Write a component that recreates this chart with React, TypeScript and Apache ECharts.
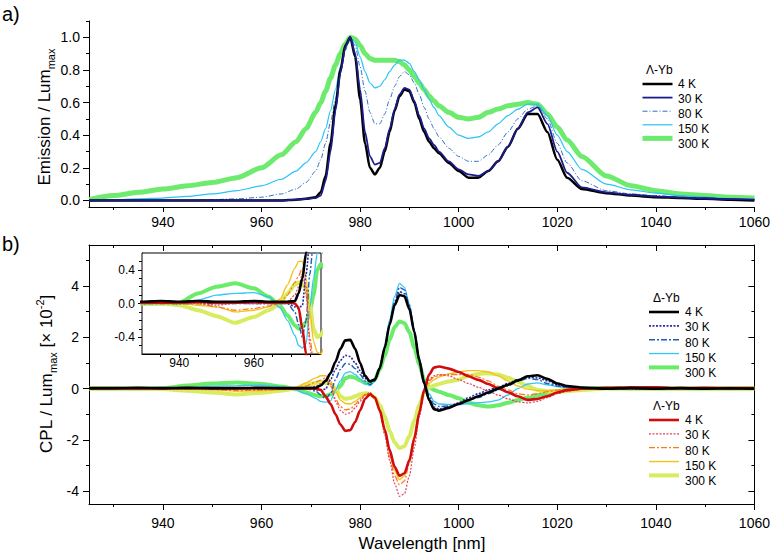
import React, { useEffect, useRef } from 'react';
import * as echarts from 'echarts';

const FONT = '"Liberation Sans", Arial, Helvetica, sans-serif';

// wavelength grid (nm)
const wavelength = [925, 930, 935, 940, 945, 950, 955, 960, 964, 967, 969, 971,
  972, 973, 974, 975, 976, 977, 978,
  979, 980, 981, 982, 983, 984, 985, 986, 987, 988, 989, 990, 991, 992, 993, 994, 995, 996,
  998, 1000, 1002, 1004, 1006, 1008, 1010, 1012, 1014, 1016, 1018, 1020, 1022,
  1025, 1030, 1035, 1040, 1045, 1050, 1055, 1060];

// a) emission / Lum_max
const emi4K = [0, 0, 0, 0, 0, 0, 0, 0, 0, 0.005, 0.01, 0.02,
  0.05, 0.15, 0.35, 0.58, 0.8, 0.95, 1.0,
  0.88, 0.62, 0.35, 0.2, 0.16, 0.2, 0.3, 0.42, 0.55, 0.64, 0.68, 0.67, 0.6, 0.5, 0.42, 0.36, 0.32, 0.29,
  0.23, 0.18, 0.14, 0.14, 0.18, 0.24, 0.33, 0.44, 0.53, 0.53, 0.42, 0.25, 0.14,
  0.07, 0.045, 0.03, 0.02, 0.015, 0.01, 0.005, 0.0];
const emi30K = [0, 0, 0, 0, 0, 0, 0, 0, 0, 0.005, 0.01, 0.015,
  0.03, 0.12, 0.3, 0.55, 0.78, 0.94, 1.0,
  0.9, 0.68, 0.42, 0.27, 0.22, 0.23, 0.32, 0.44, 0.56, 0.65, 0.69, 0.68, 0.61, 0.52, 0.44, 0.38, 0.34, 0.3,
  0.24, 0.19, 0.16, 0.15, 0.18, 0.24, 0.33, 0.44, 0.54, 0.57, 0.47, 0.3, 0.17,
  0.08, 0.05, 0.035, 0.025, 0.018, 0.012, 0.008, 0.005];
const emi80K = [0, 0, 0, 0, 0, 0.005, 0.01, 0.02, 0.04, 0.07, 0.11, 0.18,
  0.25, 0.35, 0.48, 0.62, 0.78, 0.92, 1.0,
  0.95, 0.82, 0.67, 0.54, 0.47, 0.47, 0.53, 0.62, 0.7, 0.76, 0.79, 0.77, 0.72, 0.65, 0.57, 0.5, 0.44, 0.39,
  0.32, 0.27, 0.24, 0.24, 0.28, 0.34, 0.42, 0.5, 0.56, 0.58, 0.5, 0.35, 0.23,
  0.12, 0.06, 0.04, 0.03, 0.02, 0.015, 0.01, 0.005];
const emi150K = [0, 0.005, 0.01, 0.015, 0.025, 0.04, 0.06, 0.09, 0.13, 0.18, 0.23, 0.3,
  0.36, 0.44, 0.55, 0.68, 0.82, 0.94, 1.0,
  0.97, 0.88, 0.79, 0.72, 0.69, 0.7, 0.74, 0.79, 0.83, 0.86, 0.86, 0.84, 0.79, 0.74, 0.68, 0.62, 0.57, 0.52,
  0.45, 0.4, 0.38, 0.39, 0.42, 0.47, 0.52, 0.56, 0.59, 0.59, 0.52, 0.4, 0.3,
  0.19, 0.1, 0.065, 0.045, 0.03, 0.02, 0.012, 0.008];
const emi300K = [0.005, 0.03, 0.05, 0.07, 0.09, 0.11, 0.14, 0.2, 0.28, 0.36, 0.44, 0.54,
  0.6, 0.67, 0.75, 0.83, 0.9, 0.96, 1.0,
  0.99, 0.95, 0.9, 0.87, 0.86, 0.86, 0.86, 0.86, 0.86, 0.85, 0.83, 0.8, 0.76, 0.72, 0.68, 0.64, 0.61, 0.58,
  0.54, 0.51, 0.5, 0.51, 0.54, 0.56, 0.58, 0.59, 0.6, 0.59, 0.53, 0.45, 0.37,
  0.27, 0.15, 0.09, 0.06, 0.04, 0.03, 0.02, 0.015];

// b) CPL / Lum_max [x 10^-2], Δ-Yb
const cplD4K = [0.02, 0.02, 0.03, 0.02, 0.03, 0.02, 0.02, 0.03, 0.02, 0.02, 0.02, 0.03,
  0.12, 0.3, 0.6, 1.05, 1.55, 1.88, 1.9,
  1.55, 1.0, 0.5, 0.28, 0.35, 0.8, 1.6, 2.5, 3.25, 3.65, 3.6, 3.1, 2.2, 1.1, 0.2, -0.45, -0.8, -0.86,
  -0.75, -0.6, -0.45, -0.3, -0.15, 0.0, 0.15, 0.32, 0.48, 0.52, 0.38, 0.2, 0.1,
  0.04, 0.0, 0.02, 0.0, 0.02, 0.0, 0.01, 0.0];
const cplD30K = [0, 0, 0.01, 0, 0.01, 0, 0.01, 0, 0, 0, 0, -0.04,
  -0.06, -0.02, 0.35, 0.75, 1.1, 1.3, 1.25,
  1.0, 0.7, 0.4, 0.25, 0.35, 0.8, 1.6, 2.5, 3.3, 3.78, 3.7, 3.15, 2.2, 1.1, 0.2, -0.4, -0.72, -0.8,
  -0.72, -0.55, -0.35, -0.2, -0.05, 0.05, 0.2, 0.35, 0.45, 0.42, 0.3, 0.15, 0.06,
  0.02, 0, 0, 0, 0, 0, 0, 0];
const cplD80K = [0, 0, 0, 0, 0, 0, 0, 0, 0, 0, 0, -0.1,
  -0.25, -0.4, -0.2, 0.35, 0.75, 0.98, 0.95,
  0.78, 0.55, 0.3, 0.15, 0.3, 0.8, 1.6, 2.55, 3.4, 3.95, 3.85, 3.25, 2.3, 1.2, 0.3, -0.3, -0.6, -0.7,
  -0.68, -0.6, -0.45, -0.35, -0.2, -0.05, 0.1, 0.28, 0.4, 0.35, 0.2, 0.1, 0.04,
  0, 0, 0, 0, 0, 0, 0, 0];
const cplD150K = [0, 0, 0, 0, 0.04, 0.1, 0.12, 0.13, 0.08, -0.05, -0.2, -0.38,
  -0.5, -0.53, -0.48, -0.05, 0.3, 0.6, 0.66,
  0.55, 0.38, 0.2, 0.12, 0.3, 0.85, 1.7, 2.7, 3.6, 4.1, 3.95, 3.3, 2.3, 1.2, 0.35, -0.2, -0.5, -0.6,
  -0.62, -0.62, -0.58, -0.55, -0.52, -0.45, -0.25, 0.0, 0.18, 0.22, 0.15, 0.08, 0.03,
  0, 0, 0, 0, 0, 0, 0, 0];
const cplD300K = [0, 0, 0, 0.01, 0.12, 0.2, 0.24, 0.18, 0.08, -0.03, -0.14, -0.26,
  -0.3, -0.28, -0.22, -0.1, 0.1, 0.4, 0.47,
  0.42, 0.32, 0.22, 0.2, 0.35, 0.75, 1.3, 1.9, 2.4, 2.62, 2.55, 2.2, 1.6, 0.95, 0.35, 0.05, -0.05, -0.12,
  -0.25, -0.38, -0.55, -0.65, -0.7, -0.65, -0.55, -0.44, -0.36, -0.26, -0.17, -0.1, -0.05,
  0, 0.02, 0, 0, 0, 0, 0, 0];

// b) CPL, Λ-Yb
const cplL4K = [0.01, 0.01, 0.01, 0.01, 0.02, 0.01, 0.01, 0.02, 0.01, 0.01, 0.01, 0.0,
  -0.05, -0.3, -0.6, -1.0, -1.4, -1.65, -1.62,
  -1.3, -0.85, -0.4, -0.22, -0.35, -0.85, -1.6, -2.4, -3.05, -3.4, -3.3, -2.8, -1.95, -0.95, -0.05, 0.55, 0.82, 0.86,
  0.78, 0.65, 0.48, 0.34, 0.18, 0.02, -0.14, -0.3, -0.44, -0.4, -0.3, -0.15, -0.06,
  0, 0.03, 0.05, 0.05, 0.02, 0.03, 0.02, 0.02];
const cplL30K = [0, 0, 0, 0, 0, -0.02, 0, 0, 0, 0, 0.02, 0.1,
  0.2, 0.35, 0.2, -0.5, -0.85, -1.0, -0.95,
  -0.75, -0.5, -0.25, -0.15, -0.35, -0.9, -1.8, -2.8, -3.7, -4.2, -4.1, -3.4, -2.3, -1.1, -0.15, 0.35, 0.5, 0.55,
  0.5, 0.35, 0.2, 0.05, -0.1, -0.25, -0.4, -0.52, -0.56, -0.5, -0.35, -0.2, -0.1,
  -0.03, 0, 0, 0, 0, 0, 0, 0];
const cplL80K = [0, 0, 0, 0, 0, -0.04, -0.08, -0.06, -0.03, 0.0, 0.1, 0.25,
  0.33, 0.42, 0.1, -0.4, -0.7, -0.83, -0.8,
  -0.62, -0.42, -0.25, -0.2, -0.35, -0.9, -1.7, -2.65, -3.4, -3.75, -3.6, -2.9, -1.9, -0.9, -0.1, 0.3, 0.45, 0.52,
  0.55, 0.55, 0.55, 0.45, 0.3, 0.1, -0.05, -0.2, -0.25, -0.2, -0.12, -0.06, -0.02,
  0, 0, 0, 0, 0, 0, 0, 0];
const cplL150K = [0, 0, 0, 0, -0.02, -0.04, -0.1, -0.08, -0.04, 0.05, 0.22, 0.42,
  0.5, 0.5, 0.3, -0.1, -0.45, -0.58, -0.6,
  -0.5, -0.35, -0.22, -0.2, -0.35, -0.85, -1.6, -2.5, -3.2, -3.55, -3.4, -2.75, -1.8, -0.9, -0.15, 0.2, 0.35, 0.45,
  0.58, 0.65, 0.7, 0.7, 0.65, 0.5, 0.3, 0.1, -0.02, -0.08, -0.08, -0.05, -0.02,
  0, 0, 0, 0, 0, 0, 0, 0];
const cplL300K = [0, 0, 0, -0.02, -0.08, -0.15, -0.23, -0.16, -0.08, 0.0, 0.12, 0.22,
  0.25, 0.22, 0.19, 0.0, -0.3, -0.4, -0.37,
  -0.3, -0.22, -0.18, -0.2, -0.35, -0.65, -1.1, -1.65, -2.1, -2.32, -2.25, -1.85, -1.25, -0.65, -0.15, 0.05, 0.12, 0.18,
  0.28, 0.35, 0.5, 0.57, 0.6, 0.55, 0.42, 0.27, 0.1, -0.05, -0.1, -0.12, -0.1,
  -0.05, 0, 0, 0, 0, 0, 0, 0];

const tempLabels = ['4 K', '30 K', '80 K', '150 K', '300 K'];

// tick positions
const xMajor = [940, 960, 980, 1000, 1020, 1040, 1060];
const xMinor = [930, 950, 970, 990, 1010, 1030, 1050];
const aYMajor = [0, 0.2, 0.4, 0.6, 0.8, 1.0];
const aYMinor = [0.1, 0.3, 0.5, 0.7, 0.9, 1.1];
const bYMajor = [-4, -2, 0, 2, 4];
const bYMinor = [-3, -1, 1, 3, 5];
const insetXMajor = [940, 960];
const insetXMinor = [935, 945, 950, 955, 965, 970, 975];
const insetYMajor = [-0.4, 0, 0.4];
const insetYMinor = [-0.5, -0.3, -0.2, -0.1, 0.1, 0.2, 0.3, 0.5];

function axis(o: any) {
  return {
    type: 'value',
    gridIndex: o.grid,
    min: o.min,
    max: o.max,
    position: o.position,
    axisLine: { show: !!o.line, onZero: false, lineStyle: { color: '#000', width: 1 } },
    axisTick: {
      show: true, inside: !!o.inside, length: o.len, customValues: o.ticks,
      lineStyle: { color: '#000', width: 1 },
    },
    axisLabel: o.labels
      ? {
          show: true, customValues: o.labels, color: '#000', fontFamily: FONT,
          fontSize: o.fontSize || 14, margin: o.margin ?? 8, formatter: o.fmt,
        }
      : { show: false },
    splitLine: { show: false },
    minorTick: { show: false },
  };
}

function line(name: string, vals: number[], xi: number, yi: number, style: any, z: number) {
  return {
    name, type: 'line', xAxisIndex: xi, yAxisIndex: yi, z,
    data: wavelength.map((w, i) => [w, vals[i]]),
    symbol: 'none', showSymbol: false, smooth: 0.25, smoothMonotone: 'x',
    lineStyle: style, silent: true, clip: true,
  };
}

const stA: any = {
  a4: { color: '#000000', width: 2.5 },
  a30: { color: '#1c1c8a', width: 1.8 },
  a80: { color: '#2f6fc4', width: 1, type: [5, 2, 1, 2] },
  a150: { color: '#28c4f4', width: 1.2 },
  a300: { color: '#6eeb6e', width: 5 },
};
const stB: any = {
  d4: { color: '#000000', width: 2.6 },
  d30: { color: '#2b2ba6', width: 1.6, type: [2, 1.5] },
  d80: { color: '#1f5fb5', width: 1.4, type: [6, 2, 2, 2] },
  d150: { color: '#34c6f4', width: 1.3 },
  d300: { color: '#69ec69', width: 4 },
  l4: { color: '#d00c0c', width: 2.6 },
  l30: { color: '#e0425e', width: 1.2, type: [2, 1.5] },
  l80: { color: '#ff7a1a', width: 1.3, type: [6, 2, 2, 2] },
  l150: { color: '#f4c21c', width: 1.4 },
  l300: { color: '#d8ec60', width: 4 },
};

export default function App() {
  const ref = useRef<HTMLDivElement>(null);
  useEffect(() => {
    if (!ref.current) return;
    const chart = echarts.init(ref.current, undefined, { renderer: 'svg' });
    const f1 = (v: number) => v.toFixed(1);
    const f0 = (v: number) => String(Math.round(v));

    const cplSets: [string, number[]][] = [
      ['d300', cplD300K], ['l300', cplL300K], ['d150', cplD150K], ['l150', cplL150K],
      ['d80', cplD80K], ['l80', cplL80K], ['d30', cplD30K], ['l30', cplL30K],
      ['l4', cplL4K], ['d4', cplD4K],
    ];

    const series: any[] = [
      line('a300', emi300K, 0, 0, stA.a300, 2),
      line('a150', emi150K, 0, 0, stA.a150, 3),
      line('a80', emi80K, 0, 0, stA.a80, 4),
      line('a4', emi4K, 0, 0, stA.a4, 5),
      line('a30', emi30K, 0, 0, stA.a30, 6),
    ];
    cplSets.forEach(([n, v], i) => series.push(line(n, v, 2, 2, stB[n], 2 + i * 0.1)));
    cplSets.forEach(([n, v], i) => series.push(line('i' + n, v, 6, 6, stB[n], 4 + i * 0.1)));

    // legends: ECharts draws the line samples, labels are placed beside them
    const legendDefs = [
      { left: 640, top: 77, step: 15, prefix: 'a', title: 'Λ-Yb', titleX: 646, textX: 678 },
      { left: 647, top: 305, step: 15.25, prefix: 'd', title: 'Δ-Yb', titleX: 653, textX: 685 },
      { left: 647, top: 413, step: 15.25, prefix: 'l', title: 'Λ-Yb', titleX: 653, textX: 685 },
    ];
    const keys = ['4', '30', '80', '150', '300'];
    const legends = legendDefs.map((d) => ({
      left: d.left, top: d.top, orient: 'vertical', align: 'left', itemWidth: 30, itemHeight: 14,
      itemGap: d.step - 14, padding: 0, selectedMode: false,
      data: keys.map((k) => d.prefix + k),
      formatter: () => '',
      textStyle: { fontSize: 1 },
      itemStyle: { opacity: 0 },
      lineStyle: { width: 'inherit', cap: 'butt' },
    }));
    const legendTexts: any[] = [];
    legendDefs.forEach((d) => {
      legendTexts.push({
        type: 'text', x: d.titleX, y: d.top - 7,
        style: { text: d.title, fontSize: 12, fontFamily: FONT, fill: '#000', align: 'left', verticalAlign: 'middle' },
      });
      tempLabels.forEach((t, i) => {
        legendTexts.push({
          type: 'text', x: d.textX, y: d.top + 7 + i * d.step,
          style: { text: t, fontSize: 12, fontFamily: FONT, fill: '#000', align: 'left', verticalAlign: 'middle' },
        });
      });
    });

    const sub = (sz: number) => ({ fontSize: sz, fontFamily: FONT, fill: '#000', lineHeight: 14, verticalAlign: 'bottom' });
    const sup = (sz: number) => ({ fontSize: sz, fontFamily: FONT, fill: '#000', lineHeight: 12, verticalAlign: 'top' });
    const main = (sz: number) => ({ fontSize: sz, fontFamily: FONT, fill: '#000', lineHeight: 24, verticalAlign: 'middle' });

    chart.setOption({
      animation: false,
      backgroundColor: '#fff',
      grid: [
        { left: 89, top: 21, width: 666, height: 186, show: false },
        { left: 89, top: 245, width: 666, height: 259, show: false },
        { left: 142, top: 253, width: 179, height: 101, show: true, borderColor: '#000', borderWidth: 1, backgroundColor: '#fff', z: 3 },
      ],
      xAxis: [
        axis({ grid: 0, min: 925, max: 1060, position: 'bottom', line: true, ticks: xMajor, len: 5, labels: xMajor, fmt: f0, margin: 8 }),
        axis({ grid: 0, min: 925, max: 1060, position: 'bottom', ticks: xMinor, len: 3 }),
        axis({ grid: 1, min: 925, max: 1060, position: 'bottom', line: true, ticks: xMajor, len: 6, labels: xMajor, fmt: f0, margin: 12 }),
        axis({ grid: 1, min: 925, max: 1060, position: 'bottom', ticks: xMinor, len: 3 }),
        axis({ grid: 1, min: 925, max: 1060, position: 'top', line: true, inside: true, ticks: xMajor, len: 6 }),
        axis({ grid: 1, min: 925, max: 1060, position: 'top', inside: true, ticks: xMinor, len: 3 }),
        axis({ grid: 2, min: 930, max: 978, position: 'bottom', line: true, ticks: insetXMajor, len: 4, labels: insetXMajor, fmt: f0, fontSize: 12, margin: 3 }),
        axis({ grid: 2, min: 930, max: 978, position: 'bottom', ticks: insetXMinor, len: 3 }),
      ],
      yAxis: [
        axis({ grid: 0, min: -0.04, max: 1.1, position: 'left', line: true, ticks: aYMajor, len: 6, labels: aYMajor, fmt: f1, margin: 9 }),
        axis({ grid: 0, min: -0.04, max: 1.1, position: 'left', ticks: aYMinor, len: 3 }),
        axis({ grid: 1, min: -4.5, max: 5.6, position: 'left', line: true, ticks: bYMajor, len: 6, labels: bYMajor, fmt: f0, margin: 10 }),
        axis({ grid: 1, min: -4.5, max: 5.6, position: 'left', ticks: bYMinor, len: 3 }),
        axis({ grid: 1, min: -4.5, max: 5.6, position: 'right', line: true, inside: true, ticks: bYMajor, len: 6 }),
        axis({ grid: 1, min: -4.5, max: 5.6, position: 'right', inside: true, ticks: bYMinor, len: 3 }),
        axis({ grid: 2, min: -0.6, max: 0.6, position: 'left', line: true, ticks: insetYMajor, len: 4, labels: insetYMajor, fmt: f1, fontSize: 12, margin: 7 }),
        axis({ grid: 2, min: -0.6, max: 0.6, position: 'left', ticks: insetYMinor, len: 3 }),
      ],
      legend: legends,
      graphic: [
        { type: 'text', left: 2, top: 4, style: { text: 'a)', fontSize: 20, fontFamily: FONT, fill: '#000' } },
        { type: 'text', left: 2, top: 234, style: { text: 'b)', fontSize: 20, fontFamily: FONT, fill: '#000' } },
        ...legendTexts,
        { type: 'text', x: 422, y: 543, style: { text: 'Wavelength [nm]', fontSize: 17, fontFamily: FONT, fill: '#000', align: 'center', verticalAlign: 'middle' } },
        {
          type: 'text', x: 44, y: 117, rotation: Math.PI / 2,
          style: {
            text: '{m|Emission / Lum}{s|max}', align: 'center', verticalAlign: 'middle',
            rich: { m: main(17), s: sub(11) },
          },
        },
        {
          type: 'text', x: 46, y: 374, rotation: Math.PI / 2,
          style: {
            text: '{m|CPL / Lum}{s|max}{m| [× 10}{p|-2}{m|]}', align: 'center', verticalAlign: 'middle',
            rich: { m: main(17), s: sub(11), p: sup(11) },
          },
        },
      ],
      series,
    });
    return () => chart.dispose();
  }, []);
  return (
    <div
      ref={ref}
      style={{ position: 'absolute', left: 0, top: 0, width: 773, height: 554, background: '#fff' }}
    />
  );
}
